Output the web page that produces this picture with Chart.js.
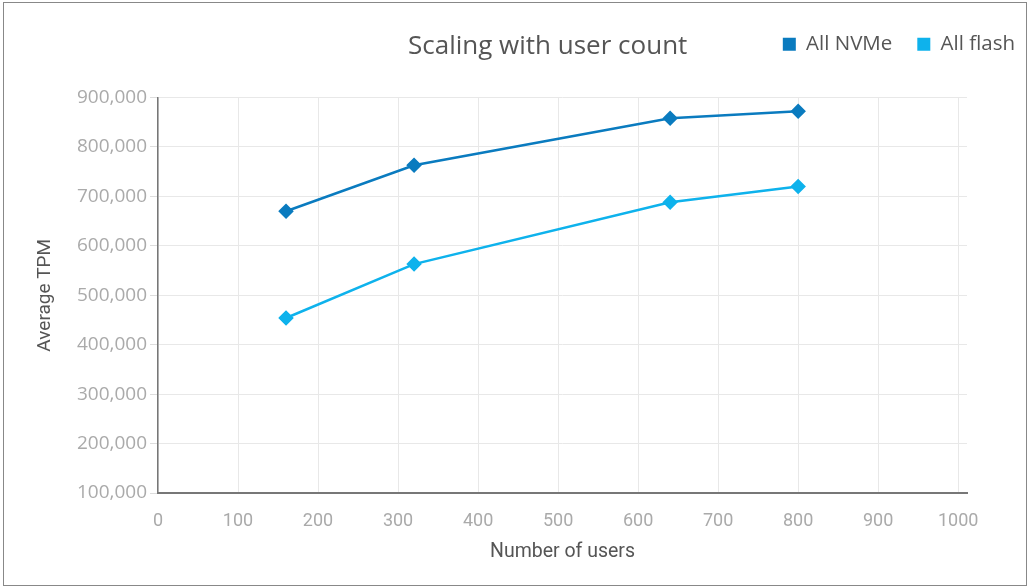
<!DOCTYPE html>
<html>
<head>
<meta charset="utf-8">
<script src="https://cdn.jsdelivr.net/npm/chart.js@4/dist/chart.umd.min.js"></script>
<style>
  html, body { margin: 0; padding: 0; background: #fff; }
  #wrap { position: relative; width: 1030px; height: 588px; }
  #c { position: absolute; left: 0; top: 0; }
  #frame { position: absolute; left: 3px; top: 2px; width: 1022px; height: 582px; border: 1px solid #888; pointer-events: none; }
  #title { position: absolute; left: 408px; top: 26px; font-family: "Open Sans", sans-serif; font-size: 26px; color: #555; white-space: nowrap; line-height: normal; }
</style>
</head>
<body>
<div id="wrap">
  <canvas id="c" width="1030" height="588"></canvas>
  <div id="title">Scaling with user count</div>
  <div id="frame"></div>
</div>
<script>
const users = [160, 320, 640, 800];
const nvme = [670000, 763000, 858000, 872000];
const flash = [454000, 563000, 688000, 720000];
const seriesNames = ["All NVMe", "All flash"];
const xTitle = "Number of users";
const yTitle = "Average TPM";

const toPts = (vals) => users.map((u, i) => ({ x: u, y: vals[i] }));

const moveLegend = {
  id: 'moveLegend',
  afterLayout(chart) {
    const L = chart.legend;
    if (!L) return;
    const dx = 1040 - L.right;
    L.left += dx; L.right += dx;
    const dy = 9 - L.top;
    L.top += dy; L.bottom += dy;
  }
};

new Chart(document.getElementById('c'), {
  type: 'line',
  data: {
    datasets: [
      { label: seriesNames[0], data: toPts(nvme), borderColor: '#0a7bbf', backgroundColor: '#0a7bbf',
        borderWidth: 2.5, pointStyle: 'rectRot', pointRadius: 6, pointHoverRadius: 6, tension: 0 },
      { label: seriesNames[1], data: toPts(flash), borderColor: '#0eb2ec', backgroundColor: '#0eb2ec',
        borderWidth: 2.5, pointStyle: 'rectRot', pointRadius: 6, pointHoverRadius: 6, tension: 0 }
    ]
  },
  plugins: [moveLegend],
  options: {
    responsive: false,
    animation: false,
    layout: { padding: { left: 30, right: 63, top: 42, bottom: 20 } },
    plugins: {
      title: { display: false },
      tooltip: { enabled: false },
      legend: {
        position: 'top', align: 'end',
        labels: { boxWidth: 13, boxHeight: 13, padding: 25, color: '#555',
          font: { family: 'Open Sans', size: 20.5 },
          generateLabels: (chart) => chart.data.datasets.map((d, i) => ({
            text: d.label, fillStyle: d.borderColor, strokeStyle: d.borderColor, lineWidth: 0,
            hidden: false, datasetIndex: i, fontColor: '#555'
          }))
        }
      }
    },
    scales: {
      x: {
        type: 'linear', min: 0, max: 1011,
        afterBuildTicks: (s) => { s.ticks = s.ticks.filter(t => t.value % 100 === 0); },
        afterFit: (s) => { s.height = 75; },
        ticks: { stepSize: 100, includeBounds: false, color: '#aaa', padding: 18, font: { family: 'Roboto', size: 18 },
          callback: (v) => String(v) },
        grid: { color: '#e8e8e8', drawTicks: false },
        border: { display: true, color: '#777', width: 2 },
        title: { display: true, text: xTitle, color: '#555', font: { family: 'Roboto', size: 19.5 }, padding: { top: 4, bottom: 4 } }
      },
      y: {
        type: 'linear', min: 100000, max: 900000,
        afterFit: (s) => { s.width = 128; },
        ticks: { stepSize: 100000, color: '#aaa', padding: 3, font: { family: 'Open Sans', size: 19 },
          callback: (v) => v.toLocaleString('en-US') },
        grid: { color: '#e8e8e8', drawTicks: true, tickLength: 8, tickColor: '#ddd' },
        border: { display: true, color: '#777', width: 1.5 },
        title: { display: true, text: yTitle, color: '#555', font: { family: 'Roboto', size: 19 }, padding: { top: 4, bottom: 4 } }
      }
    }
  }
});
</script>
</body>
</html>
